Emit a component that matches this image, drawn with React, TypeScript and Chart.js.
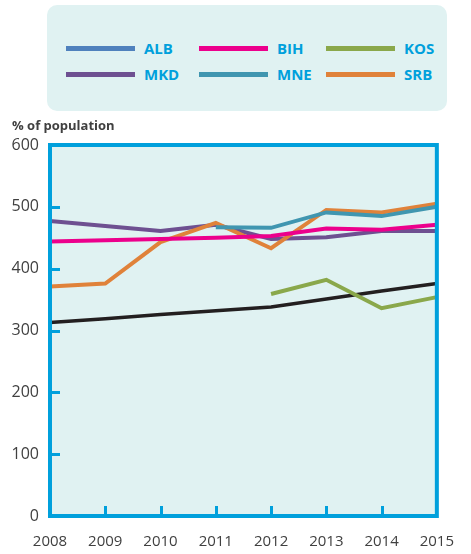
import React, { useEffect, useRef } from "react";
import { Chart, registerables } from "chart.js";

Chart.register(...registerables);

const years = ["2008", "2009", "2010", "2011", "2012", "2013", "2014", "2015"];
const yTicks = [0, 100, 200, 300, 400, 500, 600];

const ALB: (number | null)[] = [null, null, null, null, null, null, null, null];
const BIH: (number | null)[] = [444, 446, 448, 450, 453, 465, 463, 471];
const KOS: (number | null)[] = [null, null, null, null, 359, 382, 336, 354];
const MKD: (number | null)[] = [477, 469, 461, 471, 448, 451, 461, 461];
const MNE: (number | null)[] = [null, null, null, 467, 466, 491, 485, 500];
const SRB: (number | null)[] = [371, 376, 443, 474, 433, 495, 491, 505];
const REF: (number | null)[] = [313, 319, 326, 332, 338, 351, 364, 376];

const seriesNames = ["ALB", "BIH", "KOS", "MKD", "MNE", "SRB"];
const seriesColors = ["#4f81bd", "#ec008c", "#8aa84b", "#6e5091", "#4096b0", "#e0823a"];
const drawOrder = [6, 0, 4, 3, 1, 2];

const BLUE = "#00a0dc";
const BG = "#e0f2f2";

const framePlugin = {
  id: "frame",
  beforeDatasetsDraw(chart: any) {
    const { ctx, chartArea: a } = chart;
    ctx.save();
    ctx.fillStyle = BG;
    ctx.fillRect(a.left, a.top, a.right - a.left, a.bottom - a.top);
    ctx.restore();
  },
  afterDatasetsDraw(chart: any) {
    const { ctx, chartArea: a, scales } = chart;
    ctx.save();
    ctx.strokeStyle = BLUE;
    ctx.lineWidth = 3;
    const yS = scales.y;
    yTicks.slice(1, -1).forEach((v) => {
      const py = Math.round(yS.getPixelForValue(v)) + 0.5;
      ctx.beginPath();
      ctx.moveTo(a.left, py);
      ctx.lineTo(a.left + 10, py);
      ctx.stroke();
    });
    const xS = scales.x;
    for (let i = 1; i < years.length - 1; i++) {
      const px = Math.round(xS.getPixelForValue(i)) + 0.5;
      ctx.beginPath();
      ctx.moveTo(px, a.bottom);
      ctx.lineTo(px, a.bottom - 10);
      ctx.stroke();
    }
    ctx.lineWidth = 4;
    ctx.strokeRect(a.left, a.top, a.right - a.left, a.bottom - a.top);
    ctx.restore();
  },
};

export default function App() {
  const ref = useRef<HTMLCanvasElement>(null);

  useEffect(() => {
    if (!ref.current) return;
    const data = [ALB, BIH, KOS, MKD, MNE, SRB];
    const datasets: any[] = data.map((d, i) => ({
      label: seriesNames[i],
      data: d,
      borderColor: seriesColors[i],
      backgroundColor: seriesColors[i],
      borderWidth: 4,
      pointRadius: 0,
      tension: 0,
      spanGaps: false,
      order: drawOrder[i],
    }));
    datasets.push({
      label: "",
      data: REF,
      borderColor: "#231f20",
      borderWidth: 3.5,
      pointRadius: 0,
      tension: 0,
      order: 5,
    });
    const chart = new Chart(ref.current, {
      type: "line",
      data: { labels: years, datasets },
      options: {
        animation: false,
        responsive: false,
        layout: { padding: { top: 145, right: 26, left: 0, bottom: 0 } },
        plugins: { legend: { display: false }, tooltip: { enabled: false } },
        scales: {
          x: {
            offset: false,
            grid: { display: false, drawTicks: false },
            border: { display: false },
            ticks: {
              autoSkip: false,
              maxRotation: 0,
              padding: 17,
              color: "#404040",
              font: { family: "'Open Sans'", size: 15 },
            },
            afterFit: (s: any) => {
              s.height = 38;
            },
          },
          y: {
            min: 0,
            max: 600,
            grid: { display: false, drawTicks: false },
            border: { display: false },
            afterBuildTicks: (s: any) => {
              s.ticks = yTicks.map((v) => ({ value: v }));
            },
            ticks: {
              padding: 11,
              color: "#404040",
              font: { family: "'Open Sans'", size: 16 },
            },
            afterFit: (s: any) => {
              s.width = 50;
            },
          },
        },
      },
      plugins: [framePlugin],
    });
    return () => chart.destroy();
  }, []);

  const legendRows = [
    [0, 1, 2],
    [3, 4, 5],
  ];

  return (
    <div style={{ position: "fixed", left: 0, top: 0, width: 471, height: 554, background: "#fff" }}>
      <canvas ref={ref} width={471} height={554} style={{ position: "absolute", left: 0, top: 0 }} />
      <div
        style={{
          position: "absolute",
          left: 47,
          top: 5,
          width: 400,
          height: 106,
          background: BG,
          borderRadius: 10,
        }}
      >
        {legendRows.map((row, r) =>
          row.map((idx, c) => (
            <div
              key={idx}
              style={{
                position: "absolute",
                left: [19, 152, 279][c],
                top: [43, 69][r] - 10,
                height: 20,
                display: "flex",
                alignItems: "center",
              }}
            >
              <div style={{ width: 69, height: 5, background: seriesColors[idx] }} />
              <span
                style={{
                  marginLeft: 9,
                  fontFamily: "'Open Sans'",
                  fontWeight: 700,
                  fontSize: 15,
                  color: BLUE,
                }}
              >
                {seriesNames[idx]}
              </span>
            </div>
          ))
        )}
      </div>
      <div
        style={{
          position: "absolute",
          left: 12,
          top: 116,
          fontFamily: "'Open Sans'",
          fontWeight: 700,
          fontSize: 13,
          color: "#404040",
          lineHeight: "18px",
        }}
      >
        % of population
      </div>
    </div>
  );
}
